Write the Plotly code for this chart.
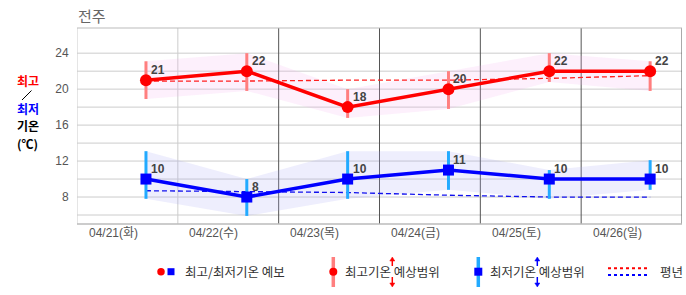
import plotly.graph_objects as go

# ---------------- data ----------------
dates = ["04/21(화)", "04/22(수)", "04/23(목)", "04/24(금)", "04/25(토)", "04/26(일)"]
high = [21, 22, 18, 20, 22, 22]
high_upper = [23.1, 24.0, 20.0, 22.0, 24.0, 23.1]
high_lower = [18.9, 19.8, 16.8, 17.8, 20.8, 19.8]
low = [10, 8, 10, 11, 10, 10]
low_upper = [13.1, 10.0, 13.1, 13.1, 11.0, 12.1]
low_lower = [7.8, 5.9, 7.8, 8.8, 7.8, 8.8]
normal_high = [20.9, 20.9, 21.0, 21.0, 21.2, 21.5]
normal_low = [8.7, 8.6, 8.5, 8.2, 8.0, 8.0]
y_ticks = [6, 8, 10, 12, 14, 16, 18, 20, 22, 24]
y_labels = ["", "8", "", "12", "", "16", "", "20", "", "24"]

# ---------------- layout geometry ----------------
W, H = 686, 295
L, R, T, B = 77, 682, 28, 224
POINT_OFF = 0.684
LABEL_OFF = 0.357

xs = [i + POINT_OFF for i in range(len(dates))]
xt = [i + LABEL_OFF for i in range(len(dates))]

def px(xp):
    return (xp - L) / (R - L)

def py(yp):
    return (B - yp) / (B - T)

FONT_KR = "Noto Sans CJK KR"
FONT_NUM = "Liberation Sans, Noto Sans CJK KR"

fig = go.Figure()

# bands
fig.add_trace(go.Scatter(x=xs, y=high_upper, mode="lines", line=dict(width=0),
                         hoverinfo="skip", showlegend=False))
fig.add_trace(go.Scatter(x=xs, y=high_lower, mode="lines", line=dict(width=0),
                         fill="tonexty", fillcolor="rgba(245,170,240,0.18)",
                         hoverinfo="skip", showlegend=False))
fig.add_trace(go.Scatter(x=xs, y=low_upper, mode="lines", line=dict(width=0),
                         hoverinfo="skip", showlegend=False))
fig.add_trace(go.Scatter(x=xs, y=low_lower, mode="lines", line=dict(width=0),
                         fill="tonexty", fillcolor="rgba(170,170,245,0.20)",
                         hoverinfo="skip", showlegend=False))

# normals
fig.add_trace(go.Scatter(x=xs, y=normal_high, mode="lines",
                         line=dict(color="#ff2020", width=1.3, dash="5px,3px"),
                         showlegend=False))
fig.add_trace(go.Scatter(x=xs, y=normal_low, mode="lines",
                         line=dict(color="#1010ee", width=1.3, dash="5px,3px"),
                         showlegend=False))

# main series with range bars
fig.add_trace(go.Scatter(
    x=xs, y=high, mode="lines+markers",
    line=dict(color="#ff0000", width=3.5),
    marker=dict(symbol="circle", size=12, color="#ff0000"),
    error_y=dict(type="data", symmetric=False,
                 array=[u - v for u, v in zip(high_upper, high)],
                 arrayminus=[v - l for l, v in zip(high_lower, high)],
                 color="#ff7f7f", thickness=3, width=0),
    showlegend=False))
fig.add_trace(go.Scatter(
    x=xs, y=low, mode="lines+markers",
    line=dict(color="#0000ff", width=3.5),
    marker=dict(symbol="square", size=11, color="#0000ff"),
    error_y=dict(type="data", symmetric=False,
                 array=[u - v for u, v in zip(low_upper, low)],
                 arrayminus=[v - l for l, v in zip(low_lower, low)],
                 color="#22aaff", thickness=3, width=0),
    showlegend=False))

annotations = []
# value labels
for x, v in zip(xs, high):
    annotations.append(dict(x=x, y=v, text=f"<b>{v}</b>", showarrow=False,
                            xanchor="left", yanchor="middle", xshift=3, yshift=10,
                            font=dict(family=FONT_NUM, size=12, color="#444")))
for x, v in zip(xs, low):
    annotations.append(dict(x=x, y=v, text=f"<b>{v}</b>", showarrow=False,
                            xanchor="left", yanchor="middle", xshift=3, yshift=10,
                            font=dict(family=FONT_NUM, size=12, color="#444")))

# x category labels
for x, d in zip(xt, dates):
    annotations.append(dict(x=x, xref="x", yref="paper", y=py(232.7), text=d,
                            showarrow=False, xanchor="center", yanchor="middle",
                            font=dict(family=FONT_NUM, size=12, color="#555")))

# title
annotations.append(dict(xref="paper", yref="paper", x=px(76), y=py(16),
                        text="전주", showarrow=False, xanchor="left", yanchor="middle",
                        font=dict(family=FONT_KR, size=15, color="#666")))

# left axis label
for txt, yc, col in [("최고", 80, "#ff0000"), ("최저", 108.5, "#0000ff"),
                     ("기온", 125.5, "#000"), ("(℃)", 143.5, "#000")]:
    annotations.append(dict(xref="paper", yref="paper", x=px(27.5), y=py(yc),
                            text=f"<b>{txt}</b>", showarrow=False,
                            xanchor="center", yanchor="middle",
                            font=dict(family=FONT_KR, size=12, color=col)))

# legend texts
LEG_Y = 271.7
for txt, x0 in [("최고/최저기온 예보", 183), ("최고기온 예상범위", 343),
                ("최저기온 예상범위", 487.5), ("평년", 658)]:
    annotations.append(dict(xref="paper", yref="paper", x=px(x0), y=py(LEG_Y),
                            text=txt, showarrow=False, xanchor="left", yanchor="middle",
                            font=dict(family=FONT_KR, size=12.5, color="#333")))

shapes = []
# horizontal gridlines
for v in y_ticks:
    shapes.append(dict(type="line", xref="paper", yref="y", x0=0, x1=1, y0=v, y1=v,
                       line=dict(color="#cccccc", width=1), layer="below"))
# vertical separators
for i in range(0, len(dates) + 1):
    col = "#cccccc" if i <= 1 else "#555555"
    shapes.append(dict(type="line", xref="x", yref="paper", x0=i, x1=i, y0=0, y1=1,
                       line=dict(color=col, width=1), layer="below"))
# top and bottom border
shapes.append(dict(type="line", xref="paper", yref="paper", x0=0, x1=1, y0=1, y1=1,
                   line=dict(color="#bbbbbb", width=1), layer="below"))
shapes.append(dict(type="line", xref="paper", yref="paper", x0=0, x1=1, y0=0, y1=0,
                   line=dict(color="#bbbbbb", width=1.5), layer="below"))

# slash in the left label
shapes.append(dict(type="line", xref="paper", yref="paper",
                   x0=px(22), y0=py(100), x1=px(31.5), y1=py(90.5),
                   line=dict(color="#000", width=1)))

def circle(cx, cy, d, color):
    r = d / 2
    return dict(type="circle", xref="paper", yref="paper",
                x0=px(cx - r), x1=px(cx + r), y0=py(cy + r), y1=py(cy - r),
                fillcolor=color, line=dict(width=0))

def rect(cx, cy, w, h, color):
    return dict(type="rect", xref="paper", yref="paper",
                x0=px(cx - w / 2), x1=px(cx + w / 2), y0=py(cy + h / 2), y1=py(cy - h / 2),
                fillcolor=color, line=dict(width=0))

def arrows(cx, color):
    out = []
    out.append(dict(type="line", xref="paper", yref="paper", x0=px(cx), x1=px(cx),
                    y0=py(259), y1=py(266), line=dict(color=color, width=1.5)))
    out.append(dict(type="line", xref="paper", yref="paper", x0=px(cx), x1=px(cx),
                    y0=py(277), y1=py(285), line=dict(color=color, width=1.5)))
    out.append(dict(type="path", xref="paper", yref="paper",
                    path=f"M {px(cx-2.5)},{py(261)} L {px(cx+2.5)},{py(261)} L {px(cx)},{py(257)} Z",
                    fillcolor=color, line=dict(color=color, width=0.5)))
    out.append(dict(type="path", xref="paper", yref="paper",
                    path=f"M {px(cx-2.5)},{py(283)} L {px(cx+2.5)},{py(283)} L {px(cx)},{py(287)} Z",
                    fillcolor=color, line=dict(color=color, width=0.5)))
    return out

# legend item 1
shapes.append(circle(161, LEG_Y, 7.5, "#ff0000"))
shapes.append(rect(171, LEG_Y, 7, 7, "#0000ff"))
# legend item 2
shapes.append(rect(333.3, 272, 3.5, 30, "#ff7f7f"))
shapes.append(circle(333.3, LEG_Y, 8, "#ff0000"))
shapes.extend(arrows(392.3, "#ff0000"))
# legend item 3
shapes.append(rect(478.3, 272, 3.5, 30, "#22aaff"))
shapes.append(rect(478.3, LEG_Y, 8, 8, "#0000ff"))
shapes.extend(arrows(537.3, "#0000ff"))
# legend item 4
shapes.append(dict(type="line", xref="paper", yref="paper", x0=px(608), x1=px(647),
                   y0=py(268.3), y1=py(268.3), line=dict(color="#ff0000", width=2, dash="dot")))
shapes.append(dict(type="line", xref="paper", yref="paper", x0=px(608), x1=px(647),
                   y0=py(275), y1=py(275), line=dict(color="#0000ff", width=2, dash="dot")))

fig.update_layout(
    width=W, height=H,
    margin=dict(l=L, r=W - R, t=T, b=H - B),
    paper_bgcolor="white", plot_bgcolor="white",
    showlegend=False,
    xaxis=dict(range=[0, len(dates)], showticklabels=False,
               showgrid=False, zeroline=False, showline=False, ticks=""),
    yaxis=dict(range=[5, 26.8], tickmode="array", tickvals=y_ticks, ticktext=y_labels,
               showgrid=False, zeroline=False, showline=False,
               ticks="outside", ticklen=5, tickcolor="rgba(0,0,0,0)",
               tickfont=dict(family=FONT_NUM, size=12, color="#555")),
    annotations=annotations,
    shapes=shapes,
)

fig.write_html("out.html")
